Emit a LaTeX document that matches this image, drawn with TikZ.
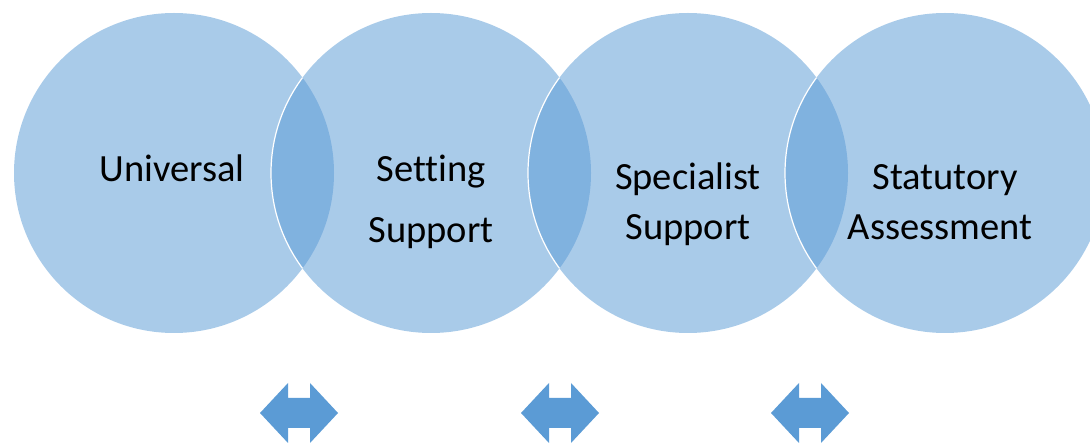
\documentclass[tikz,border=0pt]{standalone}
\usepackage{fontspec}
\setmainfont{Carlito}[Ligatures={NoCommon}]
\usetikzlibrary{calc}
\definecolor{cblue}{HTML}{5B9BD5}
\definecolor{ablue}{HTML}{5B9BD5}
\tikzset{
  circ/.style={circle, minimum size=320pt, inner sep=0pt, fill=cblue, fill opacity=0.52, draw=none},
  lbl/.style={anchor=base, inner sep=0pt, font=\fontsize{38.5}{46}\selectfont, text=black},
  dblarrow/.style={fill=ablue, draw=none},
  rim/.style={draw=white, line width=1.2pt}
}
\begin{document}
\begin{tikzpicture}[x=1pt, y=-1pt]
\useasboundingbox (0,0) rectangle (1090,443);
% circles
\node[circ] (c1) at (174,173) {};
\node[circ] (c2) at (431,173) {};
\node[circ] (c3) at (688,173) {};
\node[circ] (c4) at (945,173) {};
% white rims of the left edges inside the previous circle
\begin{scope}
  \clip (c1.center) circle (160);
  \draw[rim] (c2.center) circle (160);
\end{scope}
\begin{scope}
  \clip (c2.center) circle (160);
  \draw[rim] (c3.center) circle (160);
\end{scope}
\begin{scope}
  \clip (c3.center) circle (160);
  \draw[rim] (c4.center) circle (160);
\end{scope}
% labels
\node[lbl] (t1) at (172,182) {Universal};
\node[lbl] (t2a) at (431,182) {Setting};
\node[lbl] (t2b) at (431,243) {Support};
\node[lbl] (t3a) at (688,190) {Specialist};
\node[lbl] (t3b) at (688,240) {Support};
\node[lbl] (t4a) at (945,190) {Statutory};
\node[lbl] (t4b) at (940,240) {Assessment};
% double arrows
\foreach \cx/\nm in {299/a1, 560/a2, 810/a3}{
  \coordinate (\nm) at (\cx,413);
  \fill[dblarrow] ($(\nm)+(-39,0)$) -- ++(28,-30) -- ++(0,15) -- ++(22,0) -- ++(0,-15)
    -- ($(\nm)+(39,0)$) -- ++(-28,30) -- ++(0,-15) -- ++(-22,0) -- ++(0,15) -- cycle;
}
\end{tikzpicture}
\end{document}
